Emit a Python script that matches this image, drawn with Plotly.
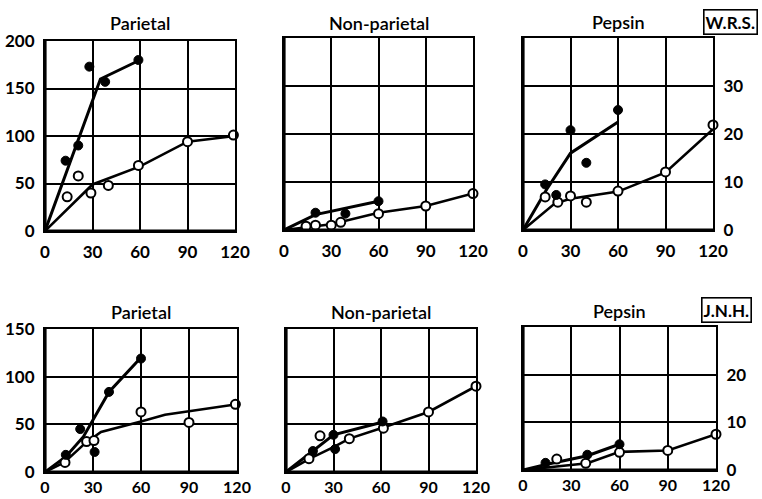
import plotly.graph_objects as go

W, H = 762, 499

# ---------------- data ----------------
# W.R.S. Parietal
wrs_par_fill_x = [13, 21, 28, 38, 59]
wrs_par_fill_y = [74, 90, 173, 157, 180]
wrs_par_fill_lx = [0, 35, 60]
wrs_par_fill_ly = [0, 160, 180]
wrs_par_open_x = [14, 21, 29, 40, 59, 90, 119]
wrs_par_open_y = [36, 58, 40, 48, 69, 94, 101]
wrs_par_open_lx = [0, 30, 60, 90, 120]
wrs_par_open_ly = [0, 49, 68, 94, 100]

# W.R.S. Non-parietal
wrs_non_fill_x = [20, 39, 60]
wrs_non_fill_y = [18, 17, 30]
wrs_non_fill_lx = [0, 20, 60]
wrs_non_fill_ly = [0, 16, 30]
wrs_non_open_x = [14, 20, 30, 36, 60, 90, 120]
wrs_non_open_y = [4, 5, 5, 8, 17, 25, 38]
wrs_non_open_lx = [0, 30, 60, 90, 120]
wrs_non_open_ly = [0, 6, 18, 25, 38]

# W.R.S. Pepsin
wrs_pep_fill_x = [14, 21, 30, 40, 60]
wrs_pep_fill_y = [9.5, 7.3, 20.8, 14, 25]
wrs_pep_fill_lx = [0, 15, 30, 60]
wrs_pep_fill_ly = [0, 8.5, 16, 22.5]
wrs_pep_open_x = [14, 22, 30, 40, 60, 90, 120]
wrs_pep_open_y = [6.9, 5.8, 7.1, 5.8, 8.1, 12.1, 21.9]
wrs_pep_open_lx = [0, 20, 30, 60, 90, 120]
wrs_pep_open_ly = [0, 5.5, 6.5, 8, 12, 21]

# J.N.H. Parietal
jnh_par_fill_x = [13, 22, 31, 40, 60]
jnh_par_fill_y = [18, 45, 21, 84, 119]
jnh_par_fill_lx = [0, 13, 24, 40, 60]
jnh_par_fill_ly = [0, 16, 37, 84, 120]
jnh_par_open_x = [12.5, 26, 30.6, 60, 90, 119]
jnh_par_open_y = [10, 32, 33, 63, 52, 71]
jnh_par_open_lx = [0, 12, 25, 35, 60, 75, 120]
jnh_par_open_ly = [0, 10, 30, 42, 53, 60, 71]

# J.N.H. Non-parietal
jnh_non_fill_x = [17, 30, 31, 61]
jnh_non_fill_y = [22, 39, 24, 53]
jnh_non_fill_lx = [0, 17, 30, 60]
jnh_non_fill_ly = [0, 22, 39, 52]
jnh_non_open_x = [14.5, 21.5, 40, 61.5, 90, 120]
jnh_non_open_y = [14, 38, 35, 46, 63, 90]
jnh_non_open_lx = [0, 15, 30, 40, 60, 90, 120]
jnh_non_open_ly = [0, 14, 26, 35, 46, 63, 90]

# J.N.H. Pepsin
jnh_pep_fill_x = [14, 40, 60]
jnh_pep_fill_y = [1.5, 3.2, 5.4]
jnh_pep_fill_lx = [0, 15, 40, 60]
jnh_pep_fill_ly = [0, 1.2, 3.0, 5.4]
jnh_pep_open_x = [21, 39, 60, 90, 120]
jnh_pep_open_y = [2.3, 1.4, 3.7, 4.1, 7.5]
jnh_pep_open_lx = [0, 40, 60, 90, 120]
jnh_pep_open_ly = [0, 1.4, 3.8, 4.1, 7.5]

x_ticks = [0, 30, 60, 90, 120]
titles = ["Parietal", "Non-parietal", "Pepsin", "Parietal", "Non-parietal", "Pepsin"]
subjects = ["W.R.S.", "J.N.H."]

panels = [
    dict(box=(45, 235, 41, 231), yr=200, dy=50, ticks=[0, 50, 100, 150, 200], side="left", ty=23, xs=4, xf=17,
         data=(wrs_par_fill_x, wrs_par_fill_y, wrs_par_fill_lx, wrs_par_fill_ly,
               wrs_par_open_x, wrs_par_open_y, wrs_par_open_lx, wrs_par_open_ly)),
    dict(box=(284, 473, 38, 230), yr=200, dy=50, ticks=[], side="left", ty=23, xs=4, xf=17,
         data=(wrs_non_fill_x, wrs_non_fill_y, wrs_non_fill_lx, wrs_non_fill_ly,
               wrs_non_open_x, wrs_non_open_y, wrs_non_open_lx, wrs_non_open_ly)),
    dict(box=(523, 713, 38, 230), yr=40, dy=10, ticks=[0, 10, 20, 30], side="right", ty=22, xs=4, xf=17,
         data=(wrs_pep_fill_x, wrs_pep_fill_y, wrs_pep_fill_lx, wrs_pep_fill_ly,
               wrs_pep_open_x, wrs_pep_open_y, wrs_pep_open_lx, wrs_pep_open_ly)),
    dict(box=(45, 237, 329, 472), yr=150, dy=50, ticks=[0, 50, 100, 150], side="left", ty=312, xs=0, xf=16,
         data=(jnh_par_fill_x, jnh_par_fill_y, jnh_par_fill_lx, jnh_par_fill_ly,
               jnh_par_open_x, jnh_par_open_y, jnh_par_open_lx, jnh_par_open_ly)),
    dict(box=(286, 476, 329, 472), yr=150, dy=50, ticks=[], side="left", ty=312, xs=0, xf=16,
         data=(jnh_non_fill_x, jnh_non_fill_y, jnh_non_fill_lx, jnh_non_fill_ly,
               jnh_non_open_x, jnh_non_open_y, jnh_non_open_lx, jnh_non_open_ly)),
    dict(box=(523, 716, 327, 470), yr=30, dy=10, ticks=[0, 10, 20], side="right", ty=311, xs=0, xf=16,
         data=(jnh_pep_fill_x, jnh_pep_fill_y, jnh_pep_fill_lx, jnh_pep_fill_ly,
               jnh_pep_open_x, jnh_pep_open_y, jnh_pep_open_lx, jnh_pep_open_ly)),
]

FONT = "Lato"
fig = go.Figure()
layout = dict(width=W, height=H, margin=dict(l=0, r=0, t=0, b=0, autoexpand=False),
              paper_bgcolor="white", plot_bgcolor="white", showlegend=False)
annotations = []
shapes = []

for i, p in enumerate(panels):
    n = i + 1
    xa = "x" if n == 1 else f"x{n}"
    ya = "y" if n == 1 else f"y{n}"
    x0, x1, y0, y1 = p["box"]
    fx, fy, flx, fly, ox, oy, olx, oly = p["data"]
    # lines
    fig.add_trace(go.Scatter(x=flx, y=fly, mode="lines", xaxis=xa, yaxis=ya,
                             line=dict(color="black", width=3), cliponaxis=False))
    fig.add_trace(go.Scatter(x=olx, y=oly, mode="lines", xaxis=xa, yaxis=ya,
                             line=dict(color="black", width=2.6), cliponaxis=False))
    # markers
    fig.add_trace(go.Scatter(x=ox, y=oy, mode="markers", xaxis=xa, yaxis=ya,
                             marker=dict(symbol="circle", size=9, color="white",
                                         line=dict(color="black", width=2)),
                             cliponaxis=False))
    fig.add_trace(go.Scatter(x=fx, y=fy, mode="markers", xaxis=xa, yaxis=ya,
                             marker=dict(symbol="circle", size=9, color="black",
                                         line=dict(color="black", width=1)),
                             cliponaxis=False))
    xkey = "xaxis" if n == 1 else f"xaxis{n}"
    ykey = "yaxis" if n == 1 else f"yaxis{n}"
    layout[xkey] = dict(domain=[x0 / W, x1 / W], range=[0, 120], anchor=ya,
                        automargin=False,
                        tickvals=x_ticks, ticktext=[str(v) for v in x_ticks],
                        showgrid=True, gridcolor="black", gridwidth=1.6,
                        showline=True, linecolor="black", linewidth=2.2, mirror=True,
                        zeroline=False, ticks="", ticklabelstandoff=p["xs"],
                        tickfont=dict(family=FONT, size=p["xf"], color="black", weight="bold"),
                        fixedrange=True)
    ydict = dict(domain=[1 - y1 / H, 1 - y0 / H], range=[0, p["yr"]], anchor=xa,
                 automargin=False,
                 tickvals=list(range(0, p["yr"] + 1, p["dy"])),
                 showgrid=True, gridcolor="black", gridwidth=1.6,
                 showline=True, linecolor="black", linewidth=2.2, mirror=True,
                 zeroline=False, ticks="", side=p["side"],
                 tickfont=dict(family=FONT, size=17, color="black", weight="bold"),
                 fixedrange=True)
    if p["ticks"]:
        ydict["ticktext"] = [str(v) if v in p["ticks"] else "" for v in ydict["tickvals"]]
        ydict["ticklabelstandoff"] = 5
    else:
        ydict["showticklabels"] = False
    layout[ykey] = ydict
    # thicker left & bottom edges
    shapes.append(dict(type="line", xref=f"{xa} domain", yref=f"{ya} domain",
                       x0=0, x1=0, y0=0, y1=1, line=dict(color="black", width=3.2)))
    shapes.append(dict(type="line", xref=f"{xa} domain", yref=f"{ya} domain",
                       x0=0, x1=1, y0=0, y1=0, line=dict(color="black", width=3.2)))
    # title
    annotations.append(dict(text=titles[i], xref="paper", yref="paper",
                            x=(x0 + x1) / 2 / W, y=1 - p["ty"] / H,
                            xanchor="center", yanchor="middle", showarrow=False,
                            font=dict(family=FONT, size=18, color="black", weight=600)))

# subject labels with boxes
annotations.append(dict(text=subjects[0], xref="paper", yref="paper",
                        x=730 / W, y=1 - 22 / H, xanchor="center", yanchor="middle",
                        showarrow=False, bordercolor="black", borderwidth=1.6, borderpad=1,
                        font=dict(family=FONT, size=17, color="black", weight="bold")))
annotations.append(dict(text=subjects[1], xref="paper", yref="paper",
                        x=726 / W, y=1 - 310 / H, xanchor="center", yanchor="middle",
                        showarrow=False, bordercolor="black", borderwidth=1.6, borderpad=1,
                        font=dict(family=FONT, size=17, color="black", weight="bold")))

layout["annotations"] = annotations
layout["shapes"] = shapes
fig.update_layout(**layout)
fig.write_html("out.html")
